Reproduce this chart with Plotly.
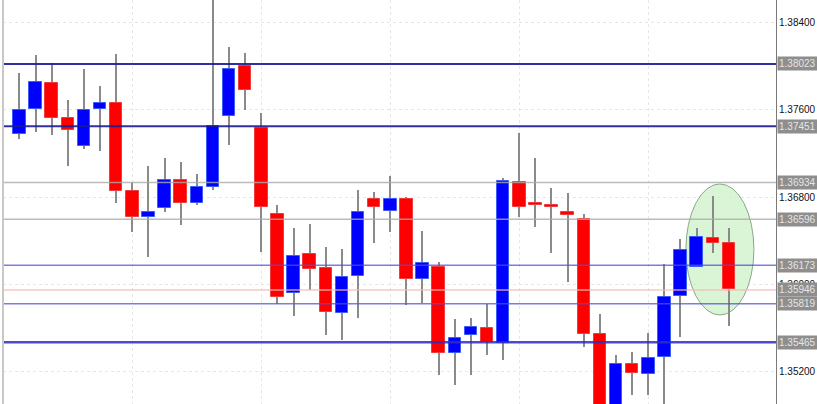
import plotly.graph_objects as go

# ---- data ----
idx = list(range(45))
opens = [1.37379, 1.37609, 1.37848, 1.37526, 1.37269, 1.37609, 1.37664, 1.36855, 1.36616, 1.36699,
         1.36956, 1.36745, 1.36892, 1.37545, 1.38005, 1.37435, 1.36644, 1.35917, 1.36276, 1.36147,
         1.35733, 1.36074, 1.36782, 1.36671, 1.36782, 1.36046, 1.36156, 1.35366, 1.35531, 1.35596,
         1.35458, 1.36938, 1.36745, 1.36727, 1.36662, 1.36598, 1.35540, 1.34796, 1.35265, 1.35173,
         1.35329, 1.35890, 1.36156, 1.36423, 1.36377]
closes = [1.37600, 1.37857, 1.37526, 1.37416, 1.37600, 1.37664, 1.36855, 1.36616, 1.36662, 1.36956,
          1.36745, 1.36892, 1.37453, 1.37977, 1.37784, 1.36708, 1.35881, 1.36258, 1.36138, 1.35743,
          1.36064, 1.36662, 1.36708, 1.36782, 1.36046, 1.36193, 1.35366, 1.35504, 1.35605, 1.35467,
          1.36947, 1.36708, 1.36727, 1.36708, 1.36635, 1.35540, 1.34750, 1.35265, 1.35182, 1.35320,
          1.35881, 1.36313, 1.36432, 1.36377, 1.35954]
highs = [1.37940, 1.38106, 1.38032, 1.37692, 1.37977, 1.37821, 1.38115, 1.36938, 1.37085, 1.37159,
         1.37122, 1.37012, 1.38750, 1.38179, 1.38124, 1.37572, 1.36727, 1.36515, 1.36552, 1.36340,
         1.36322, 1.36864, 1.36846, 1.36993, 1.36800, 1.36487, 1.36202, 1.35678, 1.35687, 1.35816,
         1.36975, 1.37389, 1.37159, 1.36883, 1.36837, 1.36644, 1.35724, 1.35347, 1.35375, 1.35550,
         1.36184, 1.36414, 1.36515, 1.36809, 1.36515]
lows = [1.37333, 1.37398, 1.37370, 1.37085, 1.37241, 1.37223, 1.36745, 1.36478, 1.36248, 1.36662,
        1.36543, 1.36727, 1.36864, 1.37278, 1.37600, 1.36294, 1.35816, 1.35706, 1.35945, 1.35531,
        1.35485, 1.35687, 1.36377, 1.36478, 1.35807, 1.35825, 1.35163, 1.35071, 1.35163, 1.35347,
        1.35301, 1.36616, 1.36524, 1.36285, 1.36019, 1.35421, 1.34658, 1.34704, 1.34980, 1.34980,
        1.34750, 1.35513, 1.36156, 1.36285, 1.35614]

blue_levels = [1.38023, 1.37451]
light_blue_levels = [1.36173, 1.35819]
deep_blue_levels = [1.35465]
grey_levels = [1.36934, 1.36596]
pink_levels = [1.35946]
y_ticks = [1.38400, 1.37600, 1.36800, 1.36000, 1.35200]

ellipse_x = [41.33, 45.55]
ellipse_y = [1.35715, 1.36920]

# ---- derived ----
up = [c >= o for o, c in zip(opens, closes)]
body_base = [min(o, c) for o, c in zip(opens, closes)]
body_len = [abs(c - o) for o, c in zip(opens, closes)]
body_fill = ["#0000ff" if u else "#ff0000" for u in up]
body_edge = ["#3a5cff" if u else "#f03c3c" for u in up]
wick_len = [h - l for h, l in zip(highs, lows)]

fig = go.Figure()
fig.add_trace(go.Bar(x=idx, y=wick_len, base=lows, width=0.07,
                     marker=dict(color="#8a8a8a", line=dict(width=0)),
                     hoverinfo="skip", showlegend=False))
fig.add_trace(go.Bar(x=idx, y=body_len, base=body_base, width=0.78,
                     marker=dict(color=body_fill, line=dict(color=body_edge, width=1)),
                     showlegend=False))

shapes = []
# ellipse (between grid and traces)
shapes.append(dict(type="circle", xref="x", yref="y", x0=ellipse_x[0], x1=ellipse_x[1],
                   y0=ellipse_y[0], y1=ellipse_y[1], layer="between",
                   fillcolor="rgba(205,240,200,0.75)", line=dict(color="#8aa88a", width=1)))

def hline(v, color, width):
    shapes.append(dict(type="line", xref="paper", yref="y", x0=0, x1=1, y0=v, y1=v,
                       line=dict(color=color, width=width), layer="above"))

for v in grey_levels:
    hline(v, "rgba(170,170,170,0.8)", 1.5)
for v in pink_levels:
    hline(v, "rgba(245,185,185,0.8)", 1.5)
for v in blue_levels:
    hline(v, "rgba(25,25,150,0.9)", 2)
for v in light_blue_levels:
    hline(v, "rgba(80,80,210,0.75)", 1.5)
for v in deep_blue_levels:
    hline(v, "rgba(45,45,190,0.85)", 2.5)

# left frame line
shapes.append(dict(type="line", xref="paper", yref="paper", x0=0, x1=0, y0=0, y1=1,
                   line=dict(color="#c8c8c8", width=2), layer="above"))

annotations = []
for v in sorted(blue_levels + light_blue_levels + deep_blue_levels + grey_levels + pink_levels):
    annotations.append(dict(x=1, xref="paper", y=v, yref="y", xanchor="left", yanchor="middle",
                            xshift=1, text=f"{v:.5f}", showarrow=False,
                            font=dict(family="Liberation Sans, Arial", size=10, color="#e6e6e6"),
                            bgcolor="#8e8e8e", borderpad=1))

fig.update_layout(
    width=817, height=404,
    margin=dict(l=3, r=41, t=0, b=0),
    paper_bgcolor="white", plot_bgcolor="white",
    barmode="overlay", bargap=0,
    shapes=shapes, annotations=annotations,
    xaxis=dict(range=[-1.02, 46.92], showticklabels=False, zeroline=False,
               showgrid=True, tick0=7, dtick=8, gridcolor="#e6e6e6", griddash="dot",
               showline=False, fixedrange=True),
    yaxis=dict(range=[1.34897, 1.38611], side="right", tickmode="array",
               tickvals=y_ticks, ticktext=[f"{v:.5f}" for v in y_ticks],
               showgrid=True, gridcolor="#e6e6e6", griddash="dot", zeroline=False,
               showline=True, linecolor="#7a7a7a", linewidth=1, ticks="",
               tickfont=dict(family="Liberation Sans, Arial", size=10, color="#111")),
    font=dict(family="Liberation Sans, Arial"),
)

fig.write_html("out.html", config={"displayModeBar": False},
               post_script="document.body.style.margin='0px';document.body.style.overflow='hidden';")
